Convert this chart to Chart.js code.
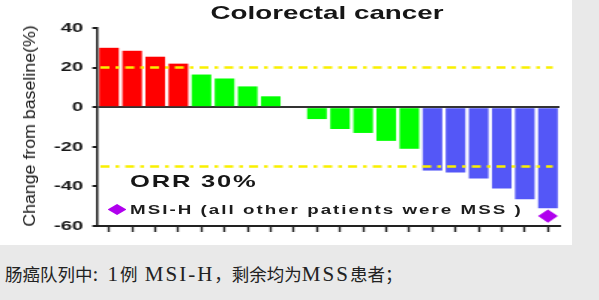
<!DOCTYPE html>
<html lang="zh-CN">
<head>
<meta charset="utf-8">
<title>Colorectal cancer</title>
<script src="https://cdn.jsdelivr.net/npm/chart.js@4.4.1/dist/chart.umd.min.js"></script>
<style>
  html, body { margin: 0; padding: 0; }
  body {
    width: 599px; height: 300px; position: relative; overflow: hidden;
    background: #e9e9e9;
    font-family: Arial, "Liberation Sans", sans-serif; color: #1d1d1d;
  }
  .panel { position: absolute; left: 0; top: 0; width: 572px; height: 245px; background: #fff; }
  /* the slide is stretched sideways, so the chart is drawn narrow and widened */
  .stretch { position: absolute; left: 0; top: 0; width: 381px; height: 245px; transform: scaleX(1.5); transform-origin: 0 0; }
  .stretch canvas { position: absolute; left: 0; top: 0; }
  .title { position: absolute; left: 218px; top: 4px; transform: translateX(-50%); font: bold 18.5px/18px Arial, "Liberation Sans", sans-serif; white-space: nowrap; color: #161616; }
  .orr { position: absolute; left: 86.7px; top: 173px; font: bold 17px/17px Arial, "Liberation Sans", sans-serif; letter-spacing: 1.2px; white-space: nowrap; color: #161616; }
  .msi { position: absolute; left: 86.7px; top: 203.5px; font: bold 12.5px/12.5px Arial, "Liberation Sans", sans-serif; letter-spacing: 1.35px; white-space: nowrap; color: #1d1d1d; }
  .msi-mark { position: absolute; left: 71.7px; top: 204px; width: 12.7px; height: 11px; background: #b000ee; clip-path: polygon(50% 0, 100% 50%, 50% 100%, 0 50%); }
  .ytitle { position: absolute; left: 30px; top: 125.5px; transform: translate(-50%, -50%) rotate(-90deg) scaleX(1.11); font: 16px/16px Arial, "Liberation Sans", sans-serif; white-space: nowrap; color: #1a1a1a; }
  .note { position: absolute; left: 5px; top: 265px; font: 17.5px/17px "Noto Sans CJK SC", sans-serif; white-space: nowrap; color: #222; }
  .note .lat { font: 21px/17px "Liberation Serif", "Times New Roman", serif; letter-spacing: 2px; }
</style>
</head>
<body>
<div class="panel"></div>
<div class="stretch">
  <canvas id="chart-waterfall" width="381" height="245" style="width:381px;height:245px;"></canvas>
  <div class="title">Colorectal cancer</div>
  <div class="orr">ORR 30%</div>
  <span class="msi-mark"></span>
  <div class="msi">MSI-H (all other patients were MSS )</div>
</div>
<div class="ytitle">Change from baseline(%)</div>
<div class="note">肠癌队列中<span class="lat">: 1</span>例<span class="lat"> MSI-H</span>，剩余均为<span class="lat">MSS</span>患者；</div>

<script>
/* ── 資料 ─────────────────────────────────────────── */
const patients  = ['1', '2', '3', '4', '5', '6', '7', '8', '9', '10',
                   '11', '12', '13', '14', '15', '16', '17', '18', '19', '20'];
const changePct = [30, 28.5, 25.5, 22, 16.5, 14.5, 10.5, 5.5, 0, -6,
                   -11, -13, -17, -21, -32, -33, -36, -41, -46.5, -51];
const barColors = ['#ff0000', '#ff0000', '#ff0000', '#ff0000',
                   '#00ff00', '#00ff00', '#00ff00', '#00ff00', '#00ff00', '#00ff00',
                   '#00ff00', '#00ff00', '#00ff00', '#00ff00',
                   '#5457f7', '#5457f7', '#5457f7', '#5457f7', '#5457f7', '#5457f7'];
/* MSI-H 標記（只有最後一位） */
const msiMarker = [null, null, null, null, null, null, null, null, null, null,
                   null, null, null, null, null, null, null, null, null, -55];
const refLines  = [20, -30];   // PD / PR 門檻
const yMin = -60, yMax = 40, yStep = 20;

/* 黃色點劃線 */
const refLinePlugin = {
  id: 'refLines',
  afterDatasetsDraw(chart) {
    const { ctx, chartArea: a, scales: { y } } = chart;
    ctx.save();
    ctx.strokeStyle = '#f9f000';
    ctx.lineWidth = 2.5;
    ctx.setLineDash([6, 4, 2.5, 4]);
    refLines.forEach(v => {
      const py = y.getPixelForValue(v);
      ctx.beginPath();
      ctx.moveTo(a.left + 2, py);
      ctx.lineTo(a.right - 4.5, py);
      ctx.stroke();
    });
    ctx.restore();
  }
};

const ctx = document.getElementById('chart-waterfall').getContext('2d');
new Chart(ctx, {
  type: 'bar',
  data: {
    labels: patients,
    datasets: [
      {
        type: 'line',
        data: msiMarker,
        showLine: false,
        pointStyle: 'rectRot',
        pointRadius: 6.6,
        backgroundColor: '#b000ee',
        borderWidth: 0,
        order: 0
      },
      {
        data: changePct,
        backgroundColor: barColors,
        borderWidth: 0,
        barPercentage: 0.85,
        categoryPercentage: 1,
        order: 1
      }
    ]
  },
  options: {
    responsive: false,
    animation: false,
    events: [],
    layout: { padding: { top: 28, right: 8, left: 0, bottom: 0 } },
    plugins: { legend: { display: false }, tooltip: { enabled: false } },
    scales: {
      x: {
        afterFit: s => { s.height = 19; },
        border: { color: '#222', width: 2 },
        grid: { offset: false, drawOnChartArea: false, tickLength: 6, tickColor: '#222', tickWidth: 1.4 },
        ticks: { display: false }
      },
      y: {
        min: yMin,
        max: yMax,
        afterFit: s => { s.width = 65; },
        border: { color: '#1a1a1a', width: 1.5 },
        grid: {
          color: c => (c.tick && c.tick.value === 0) ? '#333' : 'rgba(0,0,0,0)',
          lineWidth: 2,
          tickLength: 3.4,
          tickColor: '#1a1a1a',
          tickWidth: 2
        },
        ticks: {
          stepSize: yStep,
          padding: 6,
          color: '#1a1a1a',
          font: { family: 'Arial', size: 13.5, weight: 'bold' }
        }
      }
    }
  },
  plugins: [refLinePlugin]
});
</script>
</body>
</html>
